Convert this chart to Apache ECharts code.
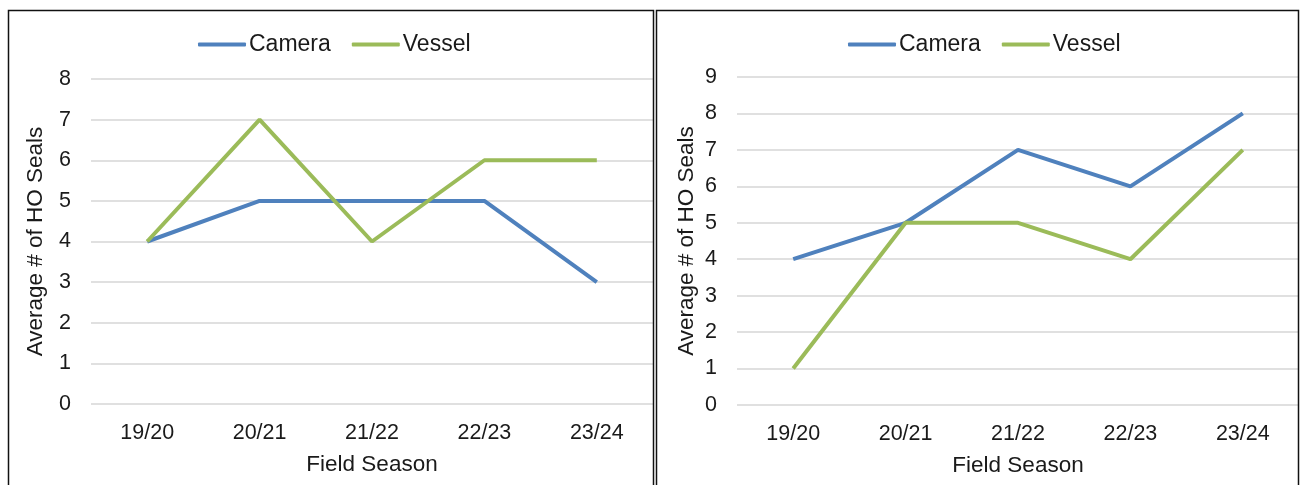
<!DOCTYPE html>
<html>
<head>
<meta charset="utf-8">
<script src="https://cdn.jsdelivr.net/npm/echarts@6/dist/echarts.min.js"></script>
<style>
  html, body { margin: 0; padding: 0; background: #fff; }
  #chart { width: 1304px; height: 485px; }
</style>
</head>
<body>
<div id="chart"></div>
<script>
// Field seasons shared by both panels
const seasons = ['19/20', '20/21', '21/22', '22/23', '23/24'];

// Left panel: average number of HO seals
const leftCamera = [4, 5, 5, 5, 3];
const leftVessel = [4, 7, 4, 6, 6];

// Right panel: average number of HO seals
const rightCamera = [4, 5, 7, 6, 8];
const rightVessel = [1, 5, 5, 4, 7];

const yMaxLeft = 8;
const yMaxRight = 9;

const FONT = '"Liberation Sans", Arial, sans-serif';
const TEXT = '#1a1a1a';
const BLUE = '#4F81BD';
const GREEN = '#9BBB59';

function xAxis(gridIndex) {
  return {
    type: 'category', gridIndex, data: seasons, boundaryGap: true,
    axisLine: { show: false }, axisTick: { show: false },
    axisLabel: { color: TEXT, fontFamily: FONT, fontSize: 21.5, margin: 18 },
    name: 'Field Season', nameLocation: 'middle', nameGap: 49,
    nameTextStyle: { color: TEXT, fontFamily: FONT, fontSize: 22.5 }
  };
}

function yAxis(gridIndex, max, gap) {
  return {
    type: 'value', gridIndex, min: 0, max, interval: 1,
    axisLine: { show: false }, axisTick: { show: false },
    axisLabel: { color: TEXT, fontFamily: FONT, fontSize: 21.5, margin: 20 },
    splitLine: { lineStyle: { color: '#d6d6d6', width: 1.5 } },
    name: 'Average # of HO Seals', nameLocation: 'middle', nameGap: gap,
    nameTextStyle: { color: TEXT, fontFamily: FONT, fontSize: 22.5 }
  };
}

function line(name, data, color, idx) {
  return {
    name, type: 'line', data, xAxisIndex: idx, yAxisIndex: idx,
    symbol: 'none', color,
    lineStyle: { color, width: 4 }
  };
}

function legend(left) {
  return {
    top: 33, left, padding: 0, itemWidth: 48, itemHeight: 4, itemGap: 21,
    icon: 'roundRect',
    data: ['Camera', 'Vessel'],
    selectedMode: false,
    textStyle: { color: TEXT, fontFamily: FONT, fontSize: 23, padding: [0, 0, 0, -2] }
  };
}

const chart = echarts.init(document.getElementById('chart'), null, { renderer: 'canvas' });
chart.setOption({
  animation: false,
  backgroundColor: '#fff',
  legend: [legend(198), legend(848)],
  grid: [
    { left: 91, top: 79, width: 562, bottom: 81 },
    { left: 737, top: 77, width: 562, bottom: 80 }
  ],
  xAxis: [xAxis(0), xAxis(1)],
  yAxis: [yAxis(0, yMaxLeft, 44), yAxis(1, yMaxRight, 39)],
  series: [
    line('Camera', leftCamera, BLUE, 0),
    line('Vessel', leftVessel, GREEN, 0),
    line('Camera', rightCamera, BLUE, 1),
    line('Vessel', rightVessel, GREEN, 1)
  ],
  graphic: [
    { type: 'rect', z: 100, shape: { x: 8.5, y: 10.5, width: 645, height: 500 },
      style: { fill: 'none', stroke: '#111', lineWidth: 1.5 } },
    { type: 'rect', z: 100, shape: { x: 656.5, y: 10.5, width: 642, height: 500 },
      style: { fill: 'none', stroke: '#111', lineWidth: 1.5 } }
  ]
});
</script>
</body>
</html>
